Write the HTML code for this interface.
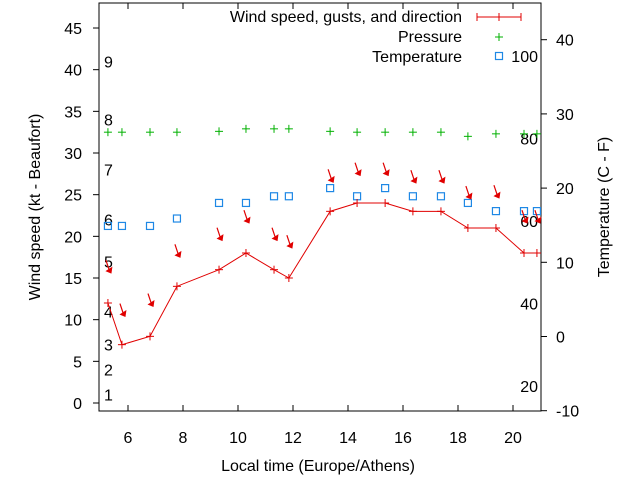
<!DOCTYPE html>
<html><head><meta charset="utf-8"><style>
body{margin:0;background:#fff;}
svg{font-family:"Liberation Sans",sans-serif;}
text{font-size:16px;fill:#000;}
</style></head><body>
<svg id="chart" width="640" height="480">
</svg>
<script>
const hours=[5.27,5.78,6.8,7.78,9.31,10.29,11.31,11.85,13.35,14.33,15.35,16.36,17.38,18.36,19.38,20.4,20.87];
const wind=[12,7,8,14,16,18,16,15,23,24,24,23,23,21,21,18,18];
const gust=[15.7,10.5,11.7,17.6,19.6,21.7,19.6,18.7,26.6,27.4,27.4,26.5,26.5,24.6,24.7,21.7,21.7];
const pressure=[32.5,32.5,32.5,32.5,32.6,32.9,32.9,32.9,32.6,32.5,32.5,32.5,32.5,32.0,32.3,32.3,32.3];
const temperature=[14.9,14.9,14.9,15.9,18.0,18.0,18.9,18.9,20.0,18.9,20.0,18.9,18.9,18.0,16.9,16.9,16.9];
const xTicks=[6,8,10,12,14,16,18,20];
const yTicks=[0,5,10,15,20,25,30,35,40,45];
const y2Ticks=[-10,0,10,20,30,40];
const beaufort=[[1,1],[2,4],[3,7],[4,11],[5,17],[6,22],[7,28],[8,34],[9,41]];
const fahrenheit=[20,40,60,80,100];

const L=99,R=541,T=3,B=411;
const X=h=>128+(h-6)*27.5;
const Y=v=>403-v*8.333;
const Y2=t=>336.5-t*7.42;
const svg=document.getElementById('chart');
const NS='http://www.w3.org/2000/svg';
function mk(tag,attrs,parent){const e=document.createElementNS(NS,tag);for(const k in attrs)e.setAttribute(k,attrs[k]);(parent||svg).appendChild(e);return e;}
function txt(x,y,s,anchor){const e=mk('text',{x:x,y:y,'text-anchor':anchor||'start'});e.textContent=s;return e;}

let f=mk('rect',{x:L,y:T,width:R-L,height:B-T,fill:'none',stroke:'#000','stroke-width':1});



xTicks.forEach(h=>{
  mk('line',{x1:X(h),x2:X(h),y1:B,y2:B-6,stroke:'#000'});
  mk('line',{x1:X(h),x2:X(h),y1:T,y2:T+6,stroke:'#000'});
  const t=txt(X(h),443,String(h),'middle');
  
  
});
yTicks.forEach(v=>{
  mk('line',{x1:L-6,x2:L,y1:Y(v),y2:Y(v),stroke:'#000'});
  const t=txt(82,Y(v)+6,String(v),'end');
  
  
});
y2Ticks.forEach(v=>{
  mk('line',{x1:R,x2:R+6,y1:Y2(v),y2:Y2(v),stroke:'#000'});
  const t=txt(556,Y2(v)+6,String(v),'start');
  
  
});
beaufort.forEach(b=>{
  const t=txt(104,Y(b[1])+6,String(b[0]),'start');
  
  
});
fahrenheit.forEach(fv=>{
  const t=txt(538,Y2((fv-32)*5/9)+6,String(fv),'end');
  
  
});

pressure.forEach((p,i)=>{
  const g=mk('g',{stroke:'#00b000','stroke-width':1});
  
  
  mk('line',{x1:X(hours[i])-4,x2:X(hours[i])+4,y1:Y(p),y2:Y(p)},g);
  mk('line',{x1:X(hours[i]),x2:X(hours[i]),y1:Y(p)-4,y2:Y(p)+4},g);
});
temperature.forEach((t,i)=>{
  const r=mk('rect',{x:X(hours[i])-3.5,y:Y2(t)-3.5,width:7,height:7,fill:'none',stroke:'#1e88e5','stroke-width':1.2});
  
  
});
const pl=mk('polyline',{points:wind.map((w,i)=>X(hours[i])+','+Y(w)).join(' '),fill:'none',stroke:'#e00000','stroke-width':1});


wind.forEach((w,i)=>{
  const g=mk('g',{stroke:'#e00000','stroke-width':1});
  
  
  mk('line',{x1:X(hours[i])-4,x2:X(hours[i])+4,y1:Y(w),y2:Y(w)},g);
  mk('line',{x1:X(hours[i]),x2:X(hours[i]),y1:Y(w)-4,y2:Y(w)+4},g);
});
gust.forEach((gv,i)=>{
  const hx=X(hours[i])+2,hy=Y(gv);
  const g=mk('g',{});
  
  
  mk('line',{x1:hx-4,y1:hy-12,x2:hx,y2:hy,stroke:'#e00000','stroke-width':1.2},g);
  mk('polygon',{points:(hx+1.5)+','+(hy+1.5)+' '+(hx-4.5)+','+(hy-1)+' '+(hx+2.5)+','+(hy-5.5),fill:'#e00000'},g);
});

let t;
t=txt(462,22,'Wind speed, gusts, and direction','end');

const lg=mk('g',{stroke:'#e00000'});


mk('line',{x1:477,x2:521,y1:17,y2:17},lg);
mk('line',{x1:477,x2:477,y1:13,y2:21},lg);
mk('line',{x1:521,x2:521,y1:13,y2:21},lg);
mk('line',{x1:499,x2:499,y1:13,y2:21},lg);
t=txt(462,42,'Pressure','end');

const pg=mk('g',{stroke:'#00b000'});


mk('line',{x1:495,x2:503,y1:37,y2:37},pg);
mk('line',{x1:499,x2:499,y1:33,y2:41},pg);
t=txt(462,62,'Temperature','end');

const tr=mk('rect',{x:495.5,y:52.5,width:7,height:7,fill:'none',stroke:'#1e88e5','stroke-width':1.2});



t=txt(318,471,'Local time (Europe/Athens)','middle');

t=txt(0,0,'Wind speed (kt - Beaufort)','middle');
t.setAttribute('transform','translate(40,207) rotate(-90)');

t=txt(0,0,'Temperature (C - F)','middle');
t.setAttribute('transform','translate(609,207) rotate(-90)');

</script>
</body></html>
